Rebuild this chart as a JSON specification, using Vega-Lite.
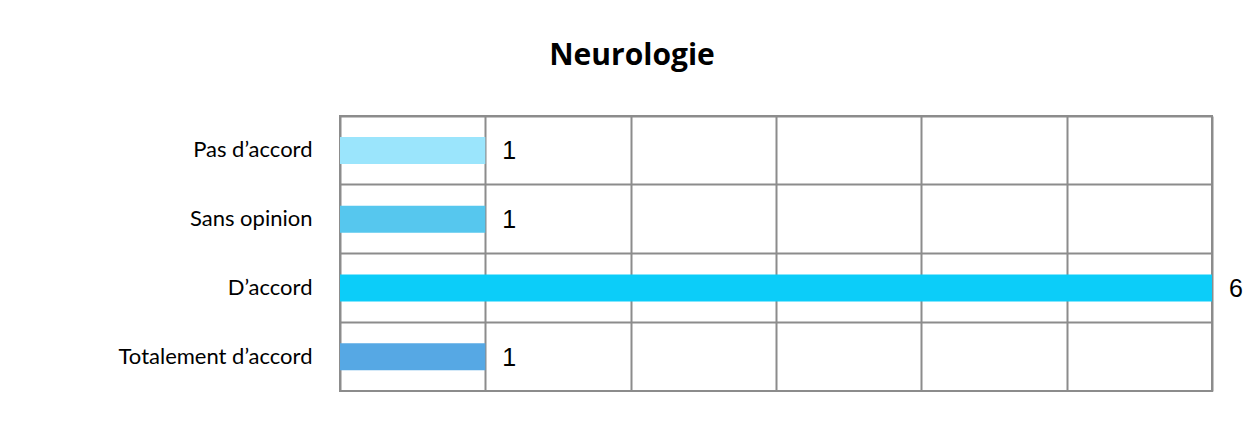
{
  "$schema": "https://vega.github.io/schema/vega-lite/v6.json",
  "autosize": {"type": "none"},
  "padding": {"left": 340, "top": 116, "right": 34, "bottom": 30},
  "width": 872,
  "height": 275,
  "background": "white",
  "title": {
    "text": "Neurologie",
    "font": "Open Sans",
    "fontSize": 30,
    "fontWeight": "bold",
    "color": "black",
    "anchor": "middle",
    "frame": "group",
    "dx": -144,
    "baseline": "alphabetic",
    "offset": 21
  },
  "data": {
    "values": [
      {"reponse": "Pas d’accord", "n": 1},
      {"reponse": "Sans opinion", "n": 1},
      {"reponse": "D’accord", "n": 6},
      {"reponse": "Totalement d’accord", "n": 1}
    ]
  },
  "config": {
    "view": {"stroke": "#8c8c8c", "strokeWidth": 2}
  },
  "encoding": {
    "y": {
      "field": "reponse",
      "type": "nominal",
      "sort": ["Pas d’accord", "Sans opinion", "D’accord", "Totalement d’accord"],
      "scale": {"paddingInner": 0, "paddingOuter": 0},
      "axis": {
        "title": null,
        "domain": false,
        "ticks": false,
        "bandPosition": 0,
        "labelPadding": 28,
        "labelLimit": 400,
        "labelFont": "Lato",
        "labelFontSize": 22,
        "labelColor": "black",
        "labelBaseline": "middle",
        "grid": true,
        "gridColor": "#8c8c8c",
        "gridWidth": 2,
        "gridOpacity": 1
      }
    },
    "x": {
      "field": "n",
      "type": "quantitative",
      "scale": {"domain": [0, 6], "nice": false},
      "axis": {
        "title": null,
        "labels": false,
        "ticks": false,
        "domain": false,
        "values": [0, 1, 2, 3, 4, 5, 6],
        "grid": true,
        "gridColor": "#8c8c8c",
        "gridWidth": 2,
        "gridOpacity": 1
      }
    }
  },
  "layer": [
    {
      "mark": {"type": "bar", "size": 27},
      "encoding": {
        "color": {
          "field": "reponse",
          "type": "nominal",
          "scale": {
            "domain": ["Pas d’accord", "Sans opinion", "D’accord", "Totalement d’accord"],
            "range": ["#9be5fc", "#56c7ee", "#0ccdf9", "#56a8e4"]
          },
          "legend": null
        }
      }
    },
    {
      "mark": {"type": "text", "align": "left", "baseline": "middle", "dx": 17, "dy": 1, "font": "Liberation Sans", "fontSize": 25, "color": "black"},
      "encoding": {"text": {"field": "n", "type": "quantitative"}}
    }
  ]
}
